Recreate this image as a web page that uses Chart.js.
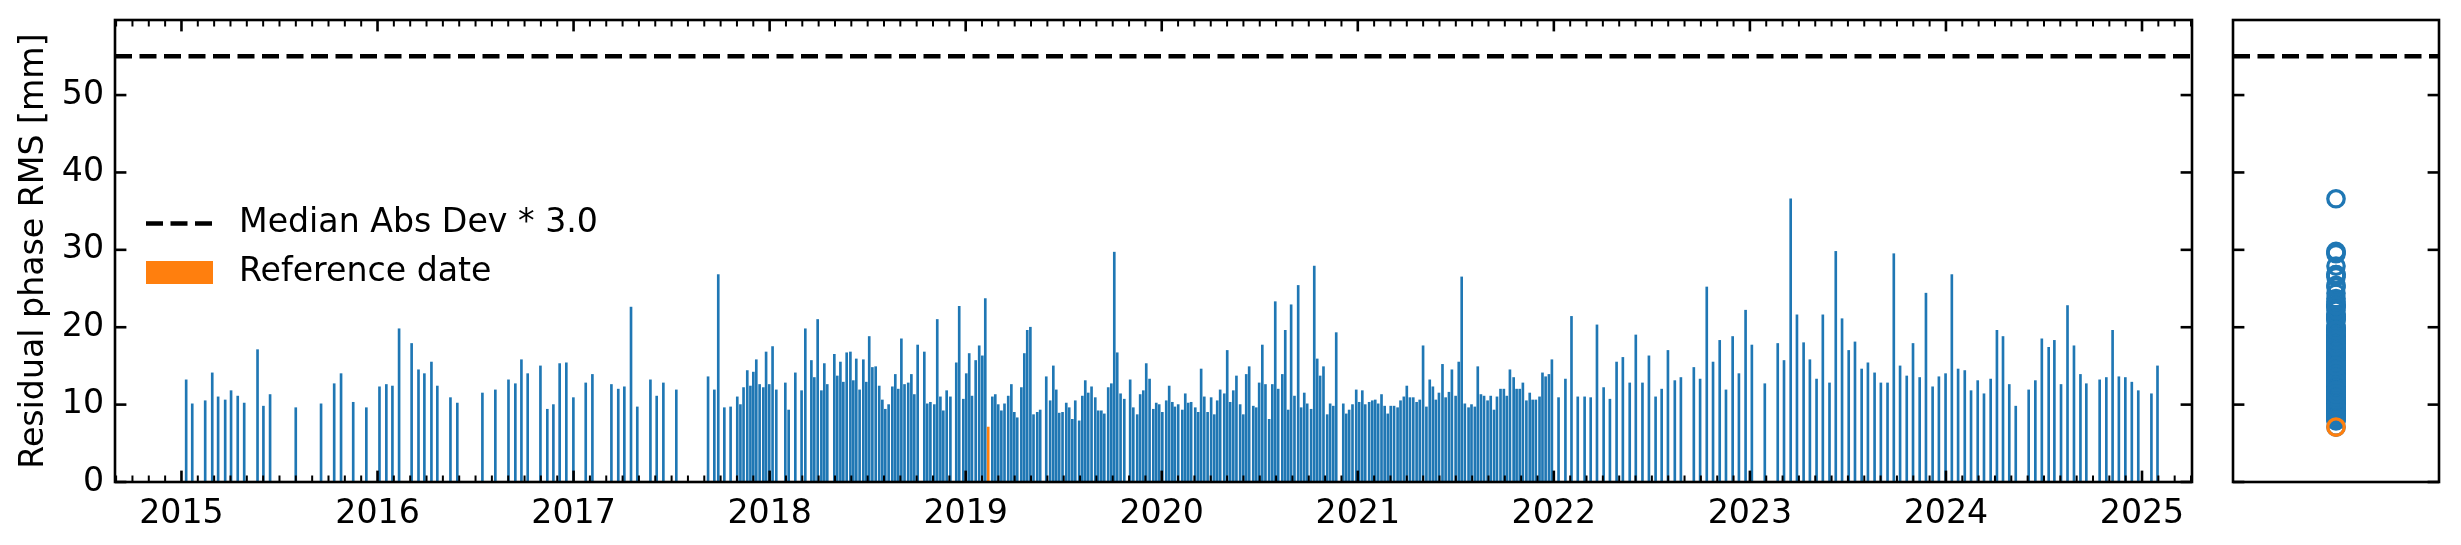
<!DOCTYPE html>
<html>
<head>
<meta charset="utf-8">
<script src="https://cdn.jsdelivr.net/npm/chart.js@4.4.1/dist/chart.umd.min.js"></script>
<style>
  html, body { margin: 0; padding: 0; background: #fff; }
  #wrap { position: relative; width: 2461px; height: 545px; }
  #mainChart { position: absolute; left: 0; top: 0; }
  #sideChart { position: absolute; left: 2212px; top: 0; }
</style>
</head>
<body>
<div id="wrap">
  <canvas id="mainChart" width="2212" height="545"></canvas>
  <canvas id="sideChart" width="249" height="545"></canvas>
</div>
<script>
// acquisition dates (decimal years)
const acqYears = [
  2015.024, 2015.055, 2015.121, 2015.157, 2015.187, 2015.223, 2015.253, 2015.287, 2015.320, 2015.388, 2015.418, 2015.452, 2015.583, 2015.712, 2015.779, 2015.814, 2015.876, 2015.943,
  2016.010, 2016.045, 2016.076, 2016.110, 2016.174, 2016.209, 2016.239, 2016.275, 2016.305, 2016.372, 2016.407, 2016.535, 2016.601, 2016.668, 2016.703, 2016.734, 2016.766, 2016.831, 2016.866, 2016.897, 2016.929, 2016.963, 2016.999,
  2017.062, 2017.096, 2017.193, 2017.228, 2017.259, 2017.293, 2017.325, 2017.392, 2017.424, 2017.458, 2017.524, 2017.686, 2017.718, 2017.738, 2017.769, 2017.801, 2017.835, 2017.851, 2017.867, 2017.886, 2017.902, 2017.917, 2017.932, 2017.949, 2017.968, 2017.982, 2017.998,
  2018.015, 2018.034, 2018.080, 2018.097, 2018.131, 2018.163, 2018.182, 2018.213, 2018.228, 2018.245, 2018.264, 2018.279, 2018.294, 2018.330, 2018.345, 2018.361, 2018.376, 2018.393, 2018.412, 2018.427,
  2018.442, 2018.459, 2018.478, 2018.493, 2018.508, 2018.524, 2018.541, 2018.559, 2018.575, 2018.590, 2018.607, 2018.626, 2018.641, 2018.656, 2018.672, 2018.688, 2018.707, 2018.723, 2018.738, 2018.755,
  2018.789, 2018.804, 2018.820, 2018.840, 2018.855, 2018.871, 2018.886, 2018.903, 2018.922, 2018.952, 2018.967, 2018.988,
  2019.003, 2019.018, 2019.032, 2019.051, 2019.069, 2019.085, 2019.100, 2019.115, 2019.136, 2019.151, 2019.166, 2019.182, 2019.198, 2019.217, 2019.233, 2019.248, 2019.263, 2019.284, 2019.299, 2019.314,
  2019.330, 2019.346, 2019.365, 2019.380, 2019.411, 2019.431, 2019.447, 2019.462, 2019.477, 2019.494, 2019.513, 2019.528, 2019.544, 2019.559, 2019.579, 2019.595, 2019.610, 2019.625, 2019.642, 2019.661,
  2019.676, 2019.692, 2019.707, 2019.727, 2019.743, 2019.758, 2019.773, 2019.790, 2019.809, 2019.839, 2019.855, 2019.875, 2019.890, 2019.906, 2019.921, 2019.938, 2019.957, 2019.972, 2019.987,
  2020.003, 2020.023, 2020.038, 2020.054, 2020.067, 2020.084, 2020.105, 2020.120, 2020.135, 2020.150, 2020.171, 2020.186, 2020.201, 2020.217, 2020.234, 2020.252, 2020.268, 2020.283, 2020.298, 2020.319,
  2020.334, 2020.349, 2020.365, 2020.381, 2020.400, 2020.416, 2020.431, 2020.446, 2020.467, 2020.482, 2020.497, 2020.513, 2020.529, 2020.548, 2020.564, 2020.579, 2020.594, 2020.615, 2020.630, 2020.645,
  2020.660, 2020.677, 2020.696, 2020.711, 2020.727, 2020.742, 2020.762, 2020.778, 2020.793, 2020.808, 2020.825, 2020.844, 2020.859, 2020.875, 2020.890, 2020.926, 2020.941, 2020.956, 2020.973, 2020.992,
  2021.007, 2021.023, 2021.038, 2021.058, 2021.074, 2021.089, 2021.104, 2021.121, 2021.137, 2021.153, 2021.168, 2021.185, 2021.203, 2021.218, 2021.235, 2021.250, 2021.266, 2021.283, 2021.300, 2021.316,
  2021.333, 2021.350, 2021.367, 2021.383, 2021.398, 2021.414, 2021.432, 2021.448, 2021.465, 2021.480, 2021.499, 2021.515, 2021.530, 2021.546, 2021.565, 2021.580, 2021.597, 2021.612, 2021.628, 2021.644,
  2021.662, 2021.678, 2021.695, 2021.710, 2021.728, 2021.745, 2021.760, 2021.776, 2021.795, 2021.810, 2021.826, 2021.842, 2021.860, 2021.877, 2021.892, 2021.908, 2021.927, 2021.942, 2021.958, 2021.975, 2021.990,
  2022.024, 2022.059, 2022.090, 2022.122, 2022.157, 2022.188, 2022.220, 2022.254, 2022.286, 2022.320, 2022.352, 2022.387, 2022.418, 2022.452, 2022.485, 2022.519, 2022.550, 2022.582, 2022.617, 2022.648,
  2022.714, 2022.746, 2022.780, 2022.812, 2022.846, 2022.878, 2022.912, 2022.944, 2022.978,
  2023.010, 2023.076, 2023.142, 2023.174, 2023.208, 2023.240, 2023.274, 2023.306, 2023.340, 2023.372, 2023.406, 2023.438, 2023.470, 2023.504, 2023.536, 2023.570, 2023.602, 2023.636, 2023.668, 2023.702,
  2023.734, 2023.766, 2023.800, 2023.832, 2023.866, 2023.898, 2023.932, 2023.964, 2023.998,
  2024.030, 2024.062, 2024.096, 2024.128, 2024.162, 2024.194, 2024.228, 2024.260, 2024.291, 2024.323, 2024.356, 2024.422, 2024.456, 2024.489, 2024.524, 2024.553, 2024.587, 2024.620, 2024.653, 2024.686,
  2024.716, 2024.784, 2024.818, 2024.850, 2024.882, 2024.915, 2024.948, 2024.981,
  2025.048, 2025.079
];

// residual phase RMS per acquisition [mm]
const rmsValues = [
  13.2, 10.1, 10.5, 14.1, 11.0, 10.6, 11.8, 11.1, 10.2, 17.1, 9.8, 11.3, 9.6, 10.1, 12.7, 14.0, 10.3, 9.6,
  12.3, 12.6, 12.4, 19.8, 17.9, 14.5, 14.0, 15.5, 12.4, 10.9, 10.2, 11.5, 11.9, 13.2, 12.7, 15.8, 14.0, 15.0, 9.4, 10.0, 15.3, 15.4, 10.9,
  12.8, 13.9, 12.6, 12.0, 12.3, 22.6, 9.7, 13.2, 11.1, 12.8, 11.9, 13.6, 11.9, 26.8, 9.6, 9.7, 11.0, 10.0, 12.2, 14.4, 12.4, 14.2, 15.8, 12.6, 12.2, 16.8, 12.6,
  17.5, 11.9, 12.8, 9.3, 14.1, 11.8, 19.8, 15.7, 13.5, 21.0, 11.8, 15.3, 12.6, 16.5, 13.7, 15.5, 12.9, 16.7, 16.8, 13.1,
  15.9, 11.9, 15.8, 12.9, 18.8, 14.8, 14.9, 12.4, 10.6, 9.4, 10.0, 12.3, 13.9, 12.0, 18.5, 12.6, 12.8, 13.9, 11.3, 17.7,
  16.8, 10.1, 10.3, 10.0, 21.0, 11.0, 9.2, 11.8, 11.0, 15.4, 22.7, 10.7,
  14.0, 16.6, 11.1, 15.7, 17.6, 16.3, 23.7, 7.1, 11.0, 11.3, 10.0, 9.2, 10.1, 11.1, 12.6, 9.0, 8.3, 12.2, 16.6, 19.6,
  20.0, 8.7, 9.0, 9.3, 13.6, 10.5, 15.0, 11.9, 8.9, 9.0, 10.2, 9.6, 8.1, 10.5, 7.9, 11.1, 13.1, 11.5, 12.3, 10.9,
  9.2, 9.2, 8.8, 12.2, 12.7, 29.7, 16.7, 11.4, 10.7, 13.2, 9.6, 8.7, 11.3, 11.8, 15.3, 13.3, 9.4, 10.2, 10.0,
  9.0, 10.5, 12.4, 10.3, 9.7, 10.0, 9.3, 11.4, 10.2, 10.3, 9.6, 9.0, 14.6, 11.0, 9.0, 10.9, 8.7, 10.5, 11.9, 11.4,
  17.0, 10.3, 11.8, 13.7, 10.0, 8.7, 13.9, 14.9, 9.8, 9.6, 12.8, 17.7, 12.6, 8.1, 12.6, 23.3, 12.0, 13.9, 19.6, 9.3,
  22.9, 11.1, 25.4, 9.6, 11.5, 10.1, 9.4, 27.9, 15.9, 13.7, 14.9, 8.7, 10.1, 9.8, 19.3, 10.1, 8.8, 9.3, 10.0, 11.9,
  10.3, 11.8, 10.0, 10.3, 10.5, 10.6, 10.1, 11.3, 9.8, 8.8, 9.8, 9.8, 9.6, 10.5, 11.0, 12.4, 10.9, 10.9, 10.3, 10.6,
  17.6, 9.7, 13.2, 12.3, 10.6, 11.5, 15.2, 10.9, 11.6, 14.5, 11.1, 15.5, 26.5, 10.1, 9.6, 10.0, 9.7, 14.9, 11.3, 11.1,
  10.5, 11.1, 9.3, 11.0, 12.0, 12.0, 11.1, 14.5, 13.5, 12.0, 12.0, 12.8, 10.5, 11.5, 10.6, 10.6, 11.0, 14.1, 13.6, 13.9, 15.8,
  10.9, 13.3, 21.4, 11.0, 11.0, 10.9, 20.3, 12.2, 10.7, 15.5, 16.1, 12.8, 19.0, 12.8, 16.3, 11.0, 12.0, 17.0, 13.1, 13.5,
  14.8, 13.3, 25.2, 15.5, 18.3, 11.9, 18.8, 14.0, 22.2,
  17.7, 12.7, 17.9, 15.7, 36.6, 21.6, 18.0, 15.8, 13.3, 21.6, 12.8, 29.8, 21.1, 17.0, 18.1, 14.6, 15.4, 14.1, 12.8, 12.8,
  29.5, 15.0, 13.7, 17.9, 13.5, 24.4, 12.3, 13.6, 14.0,
  26.8, 14.6, 14.4, 11.8, 13.1, 11.4, 13.3, 19.6, 18.8, 12.6, 9.8, 11.9, 13.1, 18.5, 17.4, 18.3, 12.6, 22.8, 17.6, 13.9,
  12.7, 13.2, 13.5, 19.6, 13.6, 13.5, 12.9, 11.8,
  11.4, 15.0
];

const referenceYear = 2019.115;
const madThreshold = 55;
const madLabel = 'Median Abs Dev * 3.0';
const refLabel = 'Reference date';
const yTitle = 'Residual phase RMS [mm]';
const yearTicks = [2015, 2016, 2017, 2018, 2019, 2020, 2021, 2022, 2023, 2024, 2025];
const yTicks = [0, 10, 20, 30, 40, 50];
const xRange = [2014.661, 2025.255];
const yRange = [0, 59.7];

const BLUE = '#1f77b4', ORANGE = '#ff7f0e';
const FONT = "'DejaVu Sans', sans-serif";
const FONT_SIZE = 33.2;
Chart.defaults.font.family = FONT;
Chart.defaults.font.size = FONT_SIZE;
Chart.defaults.color = '#000';
Chart.defaults.animation = false;

// month ticks between the year ticks
const monthTicks = [];
for (let y = 2014; y <= 2025; y++) {
  for (let m = 1; m < 12; m++) {
    const v = y + m / 12;
    if (v > xRange[0] && v < xRange[1]) monthTicks.push(v);
  }
}

// matplotlib-like box with inward ticks on every side
function frameTicks(xMajor, xMinor) {
  return {
    id: 'frameTicks',
    afterDatasetsDraw(chart) {
      const { ctx, chartArea: a, scales } = chart;
      const seg = (x1, y1, x2, y2, w) => {
        ctx.lineWidth = w; ctx.beginPath(); ctx.moveTo(x1, y1); ctx.lineTo(x2, y2); ctx.stroke();
      };
      ctx.save();
      ctx.strokeStyle = '#000';
      xMinor.forEach(v => {
        const x = scales.x.getPixelForValue(v);
        seg(x, a.bottom, x, a.bottom - 6.5, 2);
        seg(x, a.top, x, a.top + 6.5, 2);
      });
      xMajor.forEach(v => {
        const x = scales.x.getPixelForValue(v);
        seg(x, a.bottom, x, a.bottom - 11.4, 2.6);
        seg(x, a.top, x, a.top + 11.4, 2.6);
      });
      yTicks.forEach(v => {
        const y = scales.y.getPixelForValue(v);
        seg(a.left, y, a.left + 11.4, y, 2.6);
        seg(a.right, y, a.right - 11.4, y, 2.6);
      });
      ctx.lineWidth = 2.6;
      ctx.strokeRect(a.left, a.top, a.right - a.left, a.bottom - a.top);
      ctx.restore();
    }
  };
}

const insideLegend = {
  id: 'insideLegend',
  afterDraw(chart) {
    const { ctx, chartArea: a } = chart;
    const x0 = a.left + 31, hw = 67, tx = x0 + hw + 26;
    const r1 = a.top + 203.5, r2 = a.top + 252.5;
    ctx.save();
    ctx.strokeStyle = '#000';
    ctx.lineWidth = 4.5;
    ctx.setLineDash([17, 7.5]);
    ctx.beginPath(); ctx.moveTo(x0, r1); ctx.lineTo(x0 + hw, r1); ctx.stroke();
    ctx.setLineDash([]);
    ctx.fillStyle = ORANGE;
    ctx.fillRect(x0, r2 - 11.5, hw, 23);
    ctx.fillStyle = '#000';
    ctx.font = FONT_SIZE + 'px ' + FONT;
    ctx.textBaseline = 'middle';
    ctx.fillText(madLabel, tx, r1);
    ctx.fillText(refLabel, tx, r2);
    ctx.restore();
  }
};

const thresholdLine = (x0, x1) => ({
  type: 'line',
  data: [{ x: x0, y: madThreshold }, { x: x1, y: madThreshold }],
  borderColor: '#000', borderWidth: 4.5, borderDash: [17, 7.5],
  pointRadius: 0, fill: false
});

new Chart(document.getElementById('mainChart'), {
  type: 'bar',
  data: {
    datasets: [
      thresholdLine(xRange[0], xRange[1]),
      {
        type: 'bar',
        data: acqYears.map((x, i) => ({ x, y: rmsValues[i] })),
        backgroundColor: acqYears.map(x => x === referenceYear ? ORANGE : BLUE),
        barThickness: 2,
        borderWidth: 0
      }
    ]
  },
  options: {
    responsive: false,
    layout: { padding: { left: 0, top: 20, right: 20, bottom: 0 } },
    plugins: { legend: { display: false }, tooltip: { enabled: false } },
    scales: {
      x: {
        type: 'linear', min: xRange[0], max: xRange[1], offset: false,
        grid: { display: false, drawTicks: false }, border: { display: false },
        afterBuildTicks: s => { s.ticks = yearTicks.map(v => ({ value: v })); },
        afterFit: s => { s.height = 63; s.paddingLeft = 0; s.paddingRight = 0; },
        ticks: { padding: 12, maxRotation: 0, autoSkip: false, callback: v => String(v) }
      },
      y: {
        type: 'linear', min: yRange[0], max: yRange[1],
        grid: { display: false, drawTicks: false }, border: { display: false },
        afterBuildTicks: s => { s.ticks = yTicks.map(v => ({ value: v })); },
        afterFit: s => { s.width = 115; s.paddingTop = 0; s.paddingBottom = 0; },
        ticks: { padding: 11, callback: v => String(v) },
        title: { display: true, text: yTitle, padding: { top: 14, bottom: 0 } }
      }
    }
  },
  plugins: [frameTicks(yearTicks, monthTicks), insideLegend]
});

const refValue = rmsValues[acqYears.indexOf(referenceYear)];

new Chart(document.getElementById('sideChart'), {
  type: 'scatter',
  data: {
    datasets: [
      {
        data: [{ x: 0, y: refValue }],
        borderColor: ORANGE, backgroundColor: 'transparent',
        pointRadius: 8.2, pointBorderWidth: 3.3
      },
      {
        data: rmsValues.map(v => ({ x: 0, y: v })),
        borderColor: BLUE, backgroundColor: 'transparent',
        pointRadius: 8.2, pointBorderWidth: 3.3
      },
      thresholdLine(-1, 1)
    ]
  },
  options: {
    responsive: false,
    layout: { padding: { left: 21, top: 20, right: 22, bottom: 63 } },
    plugins: { legend: { display: false }, tooltip: { enabled: false } },
    scales: {
      x: { type: 'linear', min: -1, max: 1, display: false },
      y: { type: 'linear', min: yRange[0], max: yRange[1], display: false }
    }
  },
  plugins: [frameTicks([], [])]
});
</script>
</body>
</html>
